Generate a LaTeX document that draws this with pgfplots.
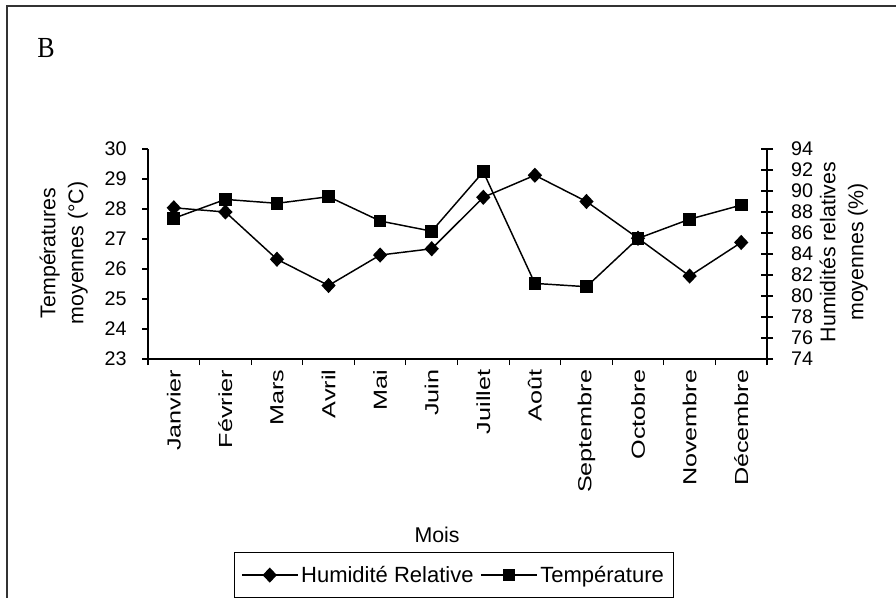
\documentclass[border=0pt]{standalone}
\usepackage{fontspec}
\setmainfont{Liberation Sans}
\newfontfamily\seriffont{Liberation Serif}
\usepackage{pgfplots}
\pgfplotsset{compat=1.18}

% month, mean temperature (C), mean relative humidity (%)
\pgfplotstableread{
m     T      H
0.5   27.69  88.4
1.5   28.32  88.0
2.5   28.19  83.5
3.5   28.41  81.0
4.5   27.60  83.9
5.5   27.26  84.5
6.5   29.24  89.4
7.5   25.52  91.5
8.5   25.41  89.0
9.5   27.02  85.5
10.5  27.66  81.9
11.5  28.13  85.1
}\meteo

\newcommand{\sx}[1]{\scalebox{1.4}[1.05]{#1}}

\pgfplotsset{
  common/.style={
    at={(111pt,-269.25pt)}, anchor=south west,
    scale only axis, width=464.25pt, height=157.5pt,
    xmin=0, xmax=12, clip=false,
    axis line style={black, line width=0.8pt},
    tick style={black, line width=0.8pt},
    /pgf/number format/assume math mode=true,
    yticklabel style={font=\fontsize{14.8}{16}\selectfont},
    label style={font=\fontsize{16}{21}\selectfont, align=center},
  },
  hum/.style={black, line width=1.1pt, mark=diamond*, mark size=4.9pt,
    mark options={xscale=1.25, solid}},
  tem/.style={black, line width=1.1pt, mark=square*, mark size=4.2pt},
}

\begin{document}
\begin{tikzpicture}
\useasboundingbox (0,0) rectangle (672pt,-448.5pt);
\draw[black!80, line width=1.2pt] (5.25pt,-448.5pt) -- (5.25pt,-4.5pt) -- (672pt,-4.5pt);
\node[font=\seriffont\fontsize{19.5}{20}\selectfont] at (34.5pt,-36pt) {\scalebox{1}[1.12]{B}};

\begin{axis}[common,
  ymin=23, ymax=30, ytick={23,...,30},
  axis x line*=bottom, axis y line*=left,
  tick align=outside, major tick length=4.5pt,
  yticklabel style={xshift=-8pt},
  xtick={0,...,12}, x tick label as interval,
  xticklabels={\sx{Janvier},\sx{Février},\sx{Mars},\sx{Avril},\sx{Mai},\sx{Juin},
    \sx{Juillet},\sx{Août},\sx{Septembre},\sx{Octobre},\sx{Novembre},\sx{Décembre}},
  xticklabel style={rotate=90, anchor=east, font=\fontsize{13.5}{16}\selectfont},
  ylabel={Températures\\moyennes (°C)},
  ylabel style={at={(axis description cs:-0.136,0.505)}, anchor=center},
  xlabel={Mois},
  xlabel style={at={(axis description cs:0.467,-0.838)}, anchor=center},
]
\addplot[tem] table[x=m, y=T] {\meteo};
\end{axis}

\begin{axis}[common,
  ymin=74, ymax=94, ytick={74,76,...,94},
  axis y line*=right, axis x line=none,
  tick align=center, major tick length=9pt,
  yticklabel style={xshift=10pt},
  ylabel={Humidités relatives\\moyennes (\%)},
  ylabel style={at={(axis description cs:1.124,0.51)}, anchor=center},
  legend columns=2,
  legend style={at={(0.494,-1.029)}, anchor=center, draw=black, line width=0.8pt,
    font=\fontsize{16.5}{19}\selectfont, inner xsep=5pt, inner ysep=8pt,
    /tikz/every even column/.append style={column sep=3pt}},
  legend image code/.code={\draw[mark repeat=2, mark phase=2]
    plot coordinates {(0pt,0pt) (21pt,0pt) (42pt,0pt)};},
]
\addplot[hum] table[x=m, y=H] {\meteo};
\addlegendentry{Humidité Relative}
\addlegendimage{tem}
\addlegendentry{Température}
\end{axis}
\end{tikzpicture}
\end{document}
